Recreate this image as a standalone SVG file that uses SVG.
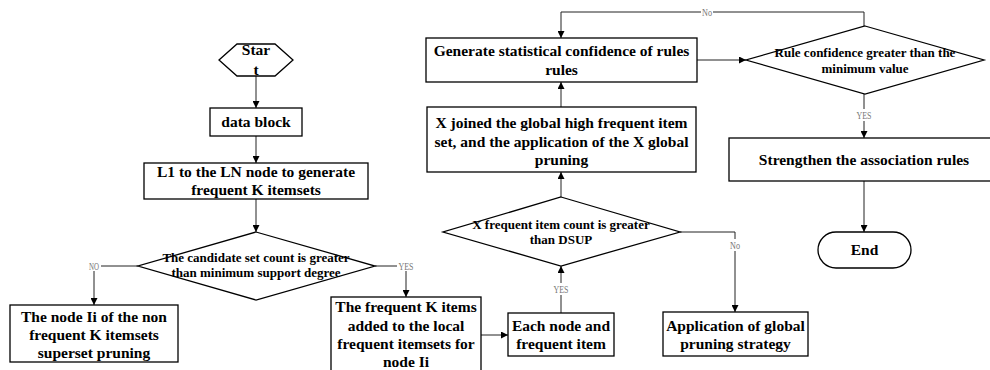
<svg xmlns="http://www.w3.org/2000/svg" width="990" height="370" viewBox="0 0 990 370">
<style>
.box{fill:#fff;stroke:#000;stroke-width:1.3}
.t{font-family:"Liberation Serif","Times New Roman",serif;font-weight:bold;font-size:15.5px;fill:#000;text-anchor:middle}
.d{font-family:"Liberation Serif","Times New Roman",serif;font-weight:bold;font-size:13px;fill:#000;text-anchor:middle}
.c{fill:none;stroke:#222;stroke-width:1}
.lb{font-family:"Liberation Serif","Times New Roman",serif;font-size:10px;fill:#777;text-anchor:middle}
.bg{fill:#fff}
</style>
<defs>
<marker id="ah" viewBox="0 0 10 10" refX="10" refY="5" markerWidth="7" markerHeight="7" markerUnits="userSpaceOnUse" orient="auto">
<path d="M0,0 L10,5 L0,10 z" fill="#000"/>
</marker>
</defs>
<rect width="990" height="370" fill="#fff"/>
<g id="connectors">
<path class="c" d="M256,76 V108" marker-end="url(#ah)"/>
<path class="c" d="M256,136 V163" marker-end="url(#ah)"/>
<path class="c" d="M256,199 V232" marker-end="url(#ah)"/>
<path class="c" d="M138,266 H94 V305" marker-end="url(#ah)"/>
<path class="c" d="M375,266 H406 V297" marker-end="url(#ah)"/>
<path class="c" d="M481,335 H508" marker-end="url(#ah)"/>
<path class="c" d="M561,313 V266" marker-end="url(#ah)"/>
<path class="c" d="M680,232 H735 V312" marker-end="url(#ah)"/>
<path class="c" d="M561,197 V172" marker-end="url(#ah)"/>
<path class="c" d="M561,107 V82" marker-end="url(#ah)"/>
<path class="c" d="M697,60 H746" marker-end="url(#ah)"/>
<path class="c" d="M864,26 V12 H561 V38" marker-end="url(#ah)"/>
<path class="c" d="M864,94 V138" marker-end="url(#ah)"/>
<path class="c" d="M864,181 V232" marker-end="url(#ah)"/>
<rect class="bg" x="87" y="260" width="14" height="11"/>
<text class="lb" x="94" y="269.5" textLength="10" lengthAdjust="spacingAndGlyphs">NO</text>
<rect class="bg" x="397" y="260" width="18" height="11"/>
<text class="lb" x="406" y="269.5" textLength="15" lengthAdjust="spacingAndGlyphs">YES</text>
<rect class="bg" x="552" y="283" width="18" height="12"/>
<text class="lb" x="561" y="293" textLength="15" lengthAdjust="spacingAndGlyphs">YES</text>
<rect class="bg" x="729" y="239" width="12" height="12"/>
<text class="lb" x="735" y="248.5" textLength="10" lengthAdjust="spacingAndGlyphs">No</text>
<rect class="bg" x="701" y="7" width="12" height="11"/>
<text class="lb" x="707" y="15.5" textLength="10" lengthAdjust="spacingAndGlyphs">No</text>
<rect class="bg" x="855" y="109" width="18" height="12"/>
<text class="lb" x="864" y="119" textLength="15" lengthAdjust="spacingAndGlyphs">YES</text>
</g>
<g id="start">
<polygon class="box" points="219,60 237,44 275,44 293,60 275,76 237,76"/>
<text class="t" x="256" y="55">Star</text>
<text class="t" x="256" y="74.5">t</text>
</g>
<g id="data-block">
<rect class="box" x="210" y="108" width="92" height="28"/>
<text class="t" x="256" y="127">data block</text>
</g>
<g id="generate-k">
<rect class="box" x="144" y="163" width="224" height="36"/>
<text class="t" x="256" y="177">L1 to the LN node to generate</text>
<text class="t" x="256" y="195">frequent K itemsets</text>
</g>
<g id="decision-candidate">
<polygon class="box" points="256,232 375,266 256,300 138,266"/>
<text class="d" x="256" y="262">The candidate set count is greater</text>
<text class="d" x="256" y="277">than minimum support degree</text>
</g>
<g id="prune-local">
<rect class="box" x="10" y="305" width="168" height="57"/>
<text class="t" x="94" y="322">The node Ii of the non</text>
<text class="t" x="94" y="340">frequent K itemsets</text>
<text class="t" x="94" y="358">superset pruning</text>
</g>
<g id="add-local">
<rect class="box" x="331" y="297" width="150" height="76"/>
<text class="t" x="406" y="312">The frequent K items</text>
<text class="t" x="406" y="330.5">added to the local</text>
<text class="t" x="406" y="349">frequent itemsets for</text>
<text class="t" x="406" y="367">node Ii</text>
</g>
<g id="each-node">
<rect class="box" x="508" y="313" width="106" height="43"/>
<text class="t" x="561" y="331">Each node and</text>
<text class="t" x="561" y="349">frequent item</text>
</g>
<g id="decision-dsup">
<polygon class="box" points="561,197 680,232 561,266 443,232"/>
<text class="d" x="561" y="228.5">X frequent item count is greater</text>
<text class="d" x="561" y="243.5">than DSUP</text>
</g>
<g id="global-prune">
<rect class="box" x="663" y="312" width="145" height="44"/>
<text class="t" x="735.5" y="331">Application of global</text>
<text class="t" x="735.5" y="349">pruning strategy</text>
</g>
<g id="x-joined">
<rect class="box" x="427" y="107" width="269" height="65"/>
<text class="t" x="561.5" y="128">X joined the global high frequent item</text>
<text class="t" x="561.5" y="146.5">set, and the application of the X global</text>
<text class="t" x="561.5" y="165">pruning</text>
</g>
<g id="generate-confidence">
<rect class="box" x="426" y="38" width="271" height="44"/>
<text class="t" x="561.5" y="55.5">Generate statistical confidence of rules</text>
<text class="t" x="561.5" y="74.5">rules</text>
</g>
<g id="decision-confidence">
<polygon class="box" points="865,26 984,60 865,94 746,60"/>
<text class="d" x="865" y="57">Rule confidence greater than the</text>
<text class="d" x="865" y="73">minimum value</text>
</g>
<g id="strengthen">
<rect class="box" x="729" y="138" width="270" height="43"/>
<text class="t" x="864" y="164.5">Strengthen the association rules</text>
</g>
<g id="end">
<rect class="box" x="818" y="232" width="93" height="36" rx="18" ry="18"/>
<text class="t" x="864.5" y="255">End</text>
</g>
</svg>
